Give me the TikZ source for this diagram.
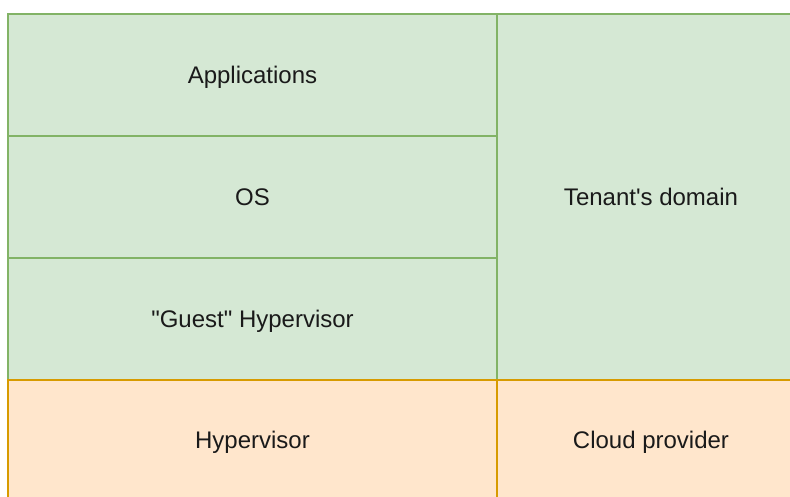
\documentclass[tikz,border=0pt]{standalone}
\usepackage{fontspec}
\newfontfamily\lsans{Liberation Sans}
\definecolor{gfill}{HTML}{D5E8D4}
\definecolor{gline}{HTML}{82B366}
\definecolor{ofill}{HTML}{FFE6CC}
\definecolor{oline}{HTML}{D79B00}
\definecolor{txt}{HTML}{1A1A1A}
\tikzset{
  cell/.style={rectangle, inner sep=0pt, line width=1.8pt, text=txt,
    text height=17pt, text depth=0pt,
    font=\lsans\fontsize{24}{28}\selectfont},
  gcell/.style={cell, draw=gline, fill=gfill},
  ocell/.style={cell, draw=oline, fill=ofill}
}
\begin{document}
\begin{tikzpicture}[x=1pt,y=-1pt]
\useasboundingbox (0,0) rectangle (790,497);
\clip (0,0) rectangle (790,497);
\node[gcell, minimum width=489pt, minimum height=122pt] (apps) at (252.5,75) {Applications};
\node[gcell, minimum width=489pt, minimum height=122pt] (os) at (252.5,197) {OS};
\node[gcell, minimum width=489pt, minimum height=122pt] (guest) at (252.5,319) {"Guest" Hypervisor};
\node[gcell, minimum width=308pt, minimum height=366pt] (tenant) at (651,197) {Tenant's domain};
\node[ocell, minimum width=489pt, minimum height=120pt] (hyp) at (252.5,440) {Hypervisor};
\node[ocell, minimum width=308pt, minimum height=120pt] (cloud) at (651,440) {Cloud provider};
\end{tikzpicture}
\end{document}
